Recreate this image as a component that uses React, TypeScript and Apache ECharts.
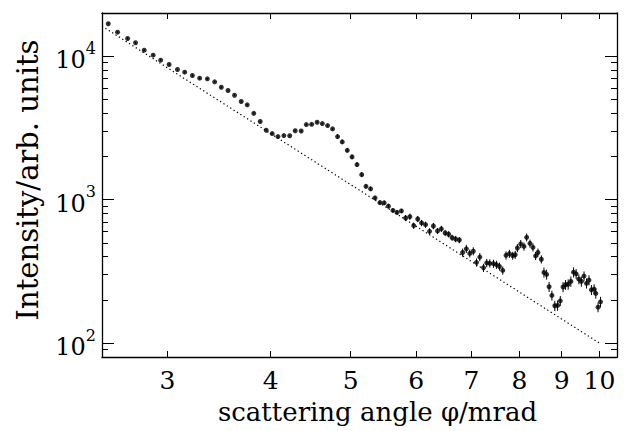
import React, { useEffect, useRef } from "react";
import * as echarts from "echarts";

// scattering angle phi (mrad)
const phi = [
  2.544, 2.611, 2.685, 2.745, 2.812, 2.883, 2.944, 3.014, 3.085, 3.148,
  3.216, 3.282, 3.353, 3.422, 3.486, 3.552, 3.617, 3.685, 3.747, 3.816,
  3.885, 3.951, 4.017, 4.082, 4.15, 4.218, 4.283, 4.355, 4.418, 4.484,
  4.553, 4.619, 4.688, 4.753, 4.82, 4.883, 4.952, 5.018, 5.088, 5.155,
  5.217, 5.284, 5.35, 5.424, 5.488, 5.554, 5.624, 5.689, 5.758, 5.826,
  5.896, 5.959, 6.026, 6.091, 6.159, 6.228, 6.295, 6.368, 6.436, 6.505,
  6.568, 6.632, 6.697, 6.767, 6.829, 6.9, 6.967, 7.035, 7.098, 7.164,
  7.238, 7.304, 7.366, 7.442, 7.504, 7.567, 7.637, 7.707, 7.78, 7.852,
  7.907, 7.955, 8.029, 8.102, 8.163, 8.239, 8.308, 8.37, 8.424, 8.504,
  8.566, 8.63, 8.69, 8.758, 8.829, 8.898, 8.965, 9.035, 9.098, 9.164,
  9.233, 9.303, 9.37, 9.441, 9.507, 9.578, 9.645, 9.712, 9.777, 9.851,
  9.898, 9.96, 10.029,
];

// intensity (arb. units)
const intensity = [
  16830, 14700, 13290, 12410, 11010, 10160, 9378, 8752, 8075, 7735,
  7333, 7023, 6956, 6627, 6076, 5764, 5344, 4830, 4580, 3995,
  3503, 3045, 2888, 2752, 2797, 2790, 3021, 3010, 3337, 3350,
  3463, 3391, 3284, 3113, 2752, 2527, 2208, 1986, 1755, 1494,
  1238, 1190, 1028, 953, 950, 901, 841, 815, 834, 745,
  761, 659, 733, 688, 669, 601, 655, 605, 626, 586,
  574, 543, 532, 523, 428, 454, 422, 437, 365, 398,
  335, 362, 360, 358, 352, 342, 321, 409, 420, 407,
  413, 460, 491, 472, 546, 495, 465, 405, 428, 384,
  311, 301, 247, 215, 182, 183, 197, 246, 255, 257,
  269, 312, 304, 279, 269, 293, 261, 275, 235, 238,
  222, 178, 194,
];

// error bar half-heights
const intensityErr = [
  250, 220, 200, 186, 165, 152, 140, 131, 121, 116,
  110, 105, 104, 99, 91, 86, 80, 72, 69, 60,
  53, 46, 43, 41, 42, 42, 45, 45, 50, 50,
  52, 51, 49, 47, 96, 88, 77, 70, 61, 52,
  43, 42, 36, 33, 33, 32, 29, 29, 29, 37,
  38, 33, 37, 34, 33, 30, 33, 30, 31, 29,
  29, 27, 27, 26, 28, 30, 27, 28, 24, 26,
  22, 24, 24, 23, 23, 22, 21, 27, 27, 26,
  27, 30, 32, 31, 35, 32, 30, 26, 28, 25,
  25, 24, 20, 17, 15, 15, 16, 20, 20, 21,
  22, 25, 24, 22, 22, 23, 21, 22, 19, 19,
  18, 14, 16,
];

// power-law reference line (dotted)
const fitPhi = [2.5, 10];
const fitIntensity = [16200, 100];

const xTickValues = [3, 4, 5, 6, 7, 8, 9, 10];
const yMajorTicks = [100, 1000, 10000];
const yMinorTicks = [
  80, 90, 200, 300, 400, 500, 600, 700, 800, 900,
  2000, 3000, 4000, 5000, 6000, 7000, 8000, 9000, 20000,
];
const xRange = [2.5, 10.5];
const yRange = [80, 20000];

const FONT = "'DejaVu Serif', serif";

export default function App() {
  const ref = useRef<HTMLDivElement>(null);

  useEffect(() => {
    if (!ref.current) return;
    const chart = echarts.init(ref.current, null, { renderer: "svg" });
    const lg = Math.log10;
    const xTickLog = xTickValues.map(lg);
    const yMajLog = yMajorTicks.map(lg);
    const yMinLog = yMinorTicks.map(lg);

    const lineStyle = { color: "#000", width: 1.3 };
    const tickLine = { color: "#000", width: 1 };

    const xTickAxis = (pos: "bottom" | "top") => ({
      type: "value",
      position: pos,
      min: lg(xRange[0]),
      max: lg(xRange[1]),
      splitLine: { show: false },
      axisLine: { show: true, onZero: false, lineStyle },
      axisTick: { show: true, inside: true, length: 6, customValues: xTickLog, lineStyle: tickLine },
      axisLabel:
        pos === "bottom"
          ? {
              show: true,
              customValues: xTickLog,
              formatter: (v: number) => String(Math.round(Math.pow(10, v))),
              margin: 11,
              color: "#000",
              fontFamily: FONT,
              fontSize: 25,
            }
          : { show: false },
      ...(pos === "bottom"
        ? {
            name: "scattering angle φ/mrad",
            nameLocation: "middle",
            nameGap: 42,
            nameTextStyle: { color: "#000", fontFamily: FONT, fontSize: 26, padding: [0, 0, 0, 36] },
          }
        : {}),
    });

    const yTickAxis = (pos: "left" | "right", major: boolean) => ({
      type: "value",
      position: pos,
      min: lg(yRange[0]),
      max: lg(yRange[1]),
      splitLine: { show: false },
      axisLine: { show: major, onZero: false, lineStyle },
      axisTick: {
        show: true,
        inside: true,
        length: major ? 12 : 6,
        customValues: major ? yMajLog : yMinLog,
        lineStyle: tickLine,
      },
      axisLabel:
        pos === "left" && major
          ? {
              show: true,
              customValues: yMajLog,
              formatter: (v: number) => `{b|10}{s|${Math.round(v)}}`,
              margin: 6,
              rich: {
                b: { fontFamily: FONT, fontSize: 24, color: "#000", lineHeight: 32, verticalAlign: "bottom" },
                s: { fontFamily: FONT, fontSize: 16, color: "#000", lineHeight: 17, verticalAlign: "top" },
              },
            }
          : { show: false },
      ...(pos === "left" && major
        ? {
            name: "Intensity/arb. units",
            nameLocation: "middle",
            nameGap: 60,
            nameTextStyle: { color: "#000", fontFamily: FONT, fontSize: 29, padding: [0, 0, 0, 10] },
          }
        : {}),
    });

    const points = phi.map((x, i) => [x, intensity[i]]);
    const errs = phi.map((x, i) => [x, intensity[i], intensityErr[i]]);
    const fit = fitPhi.map((x, i) => [x, fitIntensity[i]]);

    chart.setOption({
      animation: false,
      backgroundColor: "#fff",
      grid: { left: 102, right: 7, top: 13, bottom: 74, containLabel: false },
      xAxis: [
        { type: "log", min: xRange[0], max: xRange[1], show: false },
        xTickAxis("bottom"),
        xTickAxis("top"),
      ],
      yAxis: [
        { type: "log", min: yRange[0], max: yRange[1], show: false },
        yTickAxis("left", true),
        yTickAxis("left", false),
        yTickAxis("right", true),
        yTickAxis("right", false),
      ],
      series: [
        {
          type: "line",
          xAxisIndex: 0,
          yAxisIndex: 0,
          data: fit,
          showSymbol: false,
          symbol: "none",
          lineStyle: { color: "#000", width: 1.2, type: [1.3, 2.7] },
          z: 1,
        },
        {
          type: "custom",
          xAxisIndex: 0,
          yAxisIndex: 0,
          data: errs,
          encode: { x: 0, y: 1 },
          renderItem: (params: any, api: any) => {
            const x = api.value(0);
            const y = api.value(1);
            const e = api.value(2);
            const p1 = api.coord([x, y - e]);
            const p2 = api.coord([x, y + e]);
            return {
              type: "line",
              shape: { x1: p1[0], y1: p1[1], x2: p2[0], y2: p2[1] },
              style: { stroke: "#000", lineWidth: 1 },
            };
          },
          z: 2,
        },
        {
          type: "scatter",
          xAxisIndex: 0,
          yAxisIndex: 0,
          data: points,
          symbol: "circle",
          symbolSize: 5,
          itemStyle: { color: "#000" },
          z: 3,
        },
      ],
    });

    return () => chart.dispose();
  }, []);

  return (
    <div
      ref={ref}
      style={{ position: "absolute", left: 0, top: 0, width: 624, height: 431 }}
    />
  );
}
